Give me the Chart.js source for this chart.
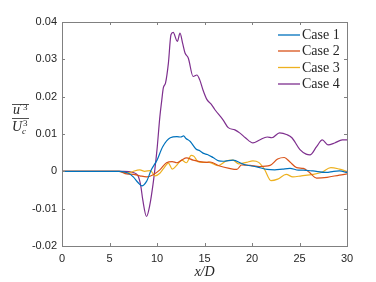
<!DOCTYPE html>
<html>
<head>
<meta charset="utf-8">
<script src="https://cdn.jsdelivr.net/npm/chart.js@4/dist/chart.umd.min.js"></script>
<style>
  html, body { margin: 0; padding: 0; background: #fff; }
  #wrap { width: 376px; height: 282px; position: relative; }
</style>
</head>
<body>
<div id="wrap"><canvas id="c"></canvas></div>
<script>
// series labels + colours (matlab default order)
const caseLabels = ["Case 1", "Case 2", "Case 3", "Case 4"];
const caseColors = ["#0072BD", "#D95319", "#EDB120", "#7E2F8E"];

// x/D positions and values
const x1 = [0, 5, 6.1, 7.0, 7.5, 8.0, 8.4, 8.9, 9.4, 10.0, 10.6, 11.4, 12.1, 12.5, 12.8, 13.05, 13.5, 14.1, 14.5, 14.9, 15.3, 15.9, 16.5, 17.0, 18.0, 19.0, 19.4, 20.5, 21.6, 22.4, 23.2, 24.0, 24.9, 25.4, 26.4, 27.8, 28.6, 29.2, 30];
const y1 = [0, 0, 0, -0.0005, -0.0015, -0.003, -0.0039, -0.0027, 0.0004, 0.003, 0.0066, 0.009, 0.0093, 0.0092, 0.0095, 0.0088, 0.008, 0.006, 0.0055, 0.0048, 0.0045, 0.0037, 0.0028, 0.0027, 0.003, 0.002, 0.0017, 0.0012, 0.0005, 0.0004, 0.0006, 0.0008, 0.0003, 0.0003, 0.0001, -0.0003, 0, 0.0001, -0.0003];

const x2 = [0, 6, 6.8, 7.5, 8.2, 8.9, 9.6, 10.3, 11.0, 11.6, 12.1, 12.6, 13.1, 13.8, 14.5, 15.2, 15.6, 16.5, 17.6, 18.4, 18.9, 19.8, 20.8, 21.9, 22.7, 23.4, 24.0, 24.7, 25.4, 26.0, 26.8, 27.9, 29.2, 30];
const y2 = [0, 0, -0.0007, -0.0008, -0.0012, -0.0015, -0.0009, 0.0004, 0.0023, 0.0026, 0.0023, 0.003, 0.0036, 0.003, 0.0026, 0.0024, 0.0025, 0.0015, 0.0008, 0.0005, 0.0017, 0.0016, 0.0013, 0.0016, 0.0033, 0.0037, 0.0025, 0.001, 0.0008, -0.0002, -0.0018, -0.0016, -0.001, -0.0007];

const x3 = [0, 6, 6.8, 7.2, 7.6, 8.2, 8.7, 9.3, 9.8, 10.3, 10.7, 11.2, 11.6, 12.1, 12.6, 13.1, 13.6, 13.9, 14.3, 14.8, 15.5, 16.4, 17.3, 18.0, 18.6, 19.4, 20.1, 20.7, 21.3, 22.0, 22.7, 23.6, 24.3, 25.2, 26.4, 27.3, 28.3, 29.2, 30];
const y3 = [0, 0, -0.0004, -0.0003, 0.0001, 0.0004, 0, 0.0002, -0.0012, -0.0005, 0.0008, 0.0022, 0.0006, 0.0017, 0.003, 0.0023, 0.0043, 0.004, 0.0026, 0.0024, 0.0024, 0.0015, 0.0028, 0.003, 0.002, 0.0024, 0.0028, 0.0024, 0.0006, -0.0025, -0.0021, -0.0008, -0.0015, -0.0012, -0.0008, -0.0003, 0.001, 0.0006, 0];

const x4 = [0, 5, 6.5, 7.47, 8.0, 8.3, 8.5, 8.9, 9.26, 9.58, 9.75, 10.0, 10.3, 10.5, 10.66, 10.9, 11.2, 11.47, 11.7, 12.14, 12.42, 12.7, 12.95, 13.3, 13.8, 14.2, 14.5, 14.84, 15.26, 15.7, 16.1, 16.95, 17.5, 18.2, 18.7, 19.3, 20.1, 20.8, 21.6, 22.1, 22.9, 23.7, 24.2, 25.05, 25.7, 26.1, 26.8, 27.4, 28.0, 28.7, 29.5, 30];
const y4 = [0, 0, 0, -0.0003, -0.0012, -0.004, -0.0076, -0.0121, -0.0088, -0.0035, 0, 0.0058, 0.0146, 0.019, 0.0223, 0.0237, 0.029, 0.0366, 0.0372, 0.0348, 0.037, 0.0343, 0.0317, 0.0303, 0.0254, 0.0258, 0.0245, 0.0218, 0.0192, 0.018, 0.0165, 0.0138, 0.0117, 0.0111, 0.0103, 0.009, 0.0076, 0.0084, 0.0092, 0.009, 0.0103, 0.0098, 0.009, 0.0058, 0.0046, 0.0044, 0.0066, 0.0084, 0.0071, 0.0076, 0.0084, 0.0084];

// axis ticks
const xTicks = [0, 5, 10, 15, 20, 25, 30];
const yTicks = [-0.02, -0.01, 0, 0.01, 0.02, 0.03, 0.04];

const xsAll = [x1, x2, x3, x4];
const ysAll = [y1, y2, y3, y4];

const axisGrey = "#808080";
const txtColor = "#262626";

// inward ticks + box + axis titles + legend, matlab style
const matlabDeco = {
  id: "matlabDeco",
  afterDraw(chart) {
    const ctx = chart.ctx;
    const a = chart.chartArea;
    const xs = chart.scales.x, ys = chart.scales.y;
    ctx.save();
    ctx.strokeStyle = axisGrey;
    ctx.lineWidth = 1;
    ctx.strokeRect(Math.round(a.left) + 0.5, Math.round(a.top) + 0.5,
      Math.round(a.right - a.left), Math.round(a.bottom - a.top));
    ctx.beginPath();
    xTicks.forEach(t => {
      const px = Math.round(xs.getPixelForValue(t)) + 0.5;
      ctx.moveTo(px, a.bottom); ctx.lineTo(px, a.bottom - 3);
      ctx.moveTo(px, a.top); ctx.lineTo(px, a.top + 3);
    });
    yTicks.forEach(t => {
      const py = Math.round(ys.getPixelForValue(t)) + 0.5;
      ctx.moveTo(a.left, py); ctx.lineTo(a.left + 3, py);
      ctx.moveTo(a.right, py); ctx.lineTo(a.right - 3, py);
    });
    ctx.stroke();

    // x title  x/D
    ctx.fillStyle = txtColor;
    ctx.textBaseline = "alphabetic";
    ctx.textAlign = "center";
    ctx.font = "italic 14px 'Liberation Serif'";
    ctx.fillText("x/D", (a.left + a.right) / 2, 276);

    // y title  overline(u'^3) / U_c^3
    ctx.textAlign = "left";
    ctx.font = "italic 14px 'Liberation Serif'";
    ctx.fillText("u", 13, 114);
    ctx.font = "9px 'Liberation Serif'";
    ctx.fillText("\u2032", 20, 110);
    ctx.fillText("3", 23, 110);
    ctx.font = "italic 14px 'Liberation Serif'";
    ctx.fillText("U", 12, 131);
    ctx.font = "9px 'Liberation Serif'";
    ctx.fillText("3", 23, 126);
    ctx.font = "italic 9px 'Liberation Serif'";
    ctx.fillText("c", 22, 134);
    ctx.strokeStyle = txtColor;
    ctx.lineWidth = 0.8;
    ctx.beginPath();
    ctx.moveTo(12, 104.5); ctx.lineTo(29, 104.5);
    ctx.moveTo(12, 118.5); ctx.lineTo(29, 118.5);
    ctx.stroke();

    // legend
    const rows = [35, 51, 67.5, 84];
    chart.data.datasets.forEach((ds, i) => {
      ctx.strokeStyle = ds.borderColor;
      ctx.lineWidth = 1.3;
      ctx.beginPath();
      ctx.moveTo(278, rows[i]); ctx.lineTo(300, rows[i]);
      ctx.stroke();
      ctx.fillStyle = txtColor;
      ctx.font = "14px 'Liberation Serif'";
      ctx.textBaseline = "middle";
      ctx.fillText(ds.label, 302, rows[i] + 0.5);
    });
    ctx.restore();
  }
};

const datasets = caseLabels.map((lab, i) => ({
  label: lab,
  data: xsAll[i].map((x, k) => ({ x: x, y: ysAll[i][k] })),
  borderColor: caseColors[i],
  borderWidth: 1.2,
  pointRadius: 0,
  fill: false,
  cubicInterpolationMode: "monotone"
}));

new Chart(document.getElementById("c"), {
  type: "line",
  data: { datasets },
  options: {
    responsive: true,
    maintainAspectRatio: false,
    animation: false,
    layout: { padding: { left: 0, right: 29, top: 22, bottom: 0 } },
    plugins: {
      legend: { display: false },
      tooltip: { enabled: false }
    },
    scales: {
      x: {
        type: "linear",
        min: 0, max: 30,
        afterBuildTicks: s => { s.ticks = xTicks.map(v => ({ value: v })); },
        afterFit: s => { s.height = 36; },
        grid: { display: false, drawTicks: false },
        border: { display: false },
        ticks: {
          padding: 6,
          color: txtColor,
          font: { family: "'Liberation Sans'", size: 11 },
          maxRotation: 0
        }
      },
      y: {
        type: "linear",
        min: -0.02, max: 0.04,
        afterBuildTicks: s => { s.ticks = yTicks.map(v => ({ value: v })); },
        afterFit: s => { s.width = 62; },
        grid: { display: false, drawTicks: false },
        border: { display: false },
        ticks: {
          padding: 5,
          color: txtColor,
          font: { family: "'Liberation Sans'", size: 11 },
          callback: v => (Math.abs(v) < 1e-9 ? "0" : (Math.round(v * 100) / 100).toFixed(2))
        }
      }
    }
  },
  plugins: [matlabDeco]
});
</script>
</body>
</html>
